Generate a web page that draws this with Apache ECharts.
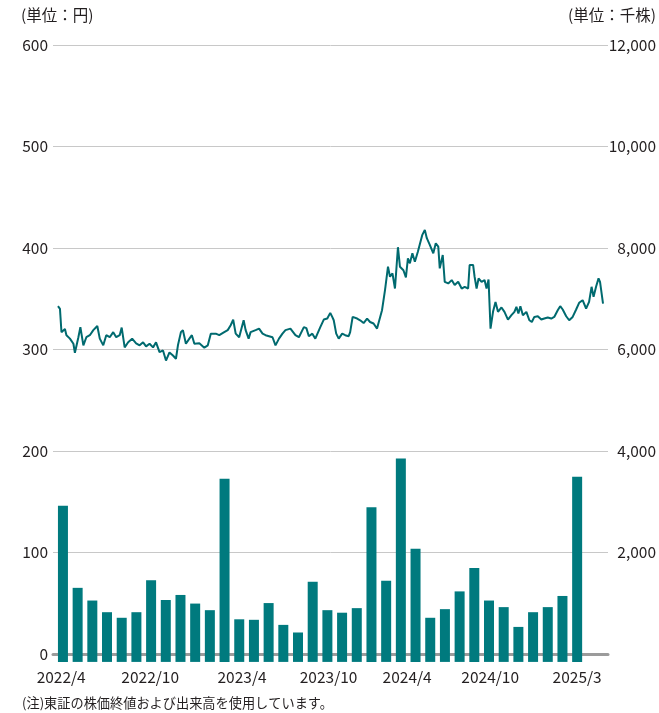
<!DOCTYPE html>
<html>
<head>
<meta charset="utf-8">
<script src="https://cdn.jsdelivr.net/npm/echarts@6/dist/echarts.min.js"></script>
<style>
  html, body { margin: 0; padding: 0; background: #fff; }
  #chart { width: 659px; height: 713px; }
</style>
</head>
<body>
<div id="chart"></div>
<script>
// 月次出来高(千株)
const months = ['2022/4', '2022/5', '2022/6', '2022/7', '2022/8', '2022/9', '2022/10', '2022/11', '2022/12',
  '2023/1', '2023/2', '2023/3', '2023/4', '2023/5', '2023/6', '2023/7', '2023/8', '2023/9', '2023/10', '2023/11', '2023/12',
  '2024/1', '2024/2', '2024/3', '2024/4', '2024/5', '2024/6', '2024/7', '2024/8', '2024/9', '2024/10', '2024/11', '2024/12',
  '2025/1', '2025/2', '2025/3']
const volume = [2920, 1300, 1050, 820, 710, 820, 1450, 1060, 1160, 990, 860, 3450,
  680, 670, 1000, 570, 420, 1420, 860, 810, 900, 2890, 1440, 3850,
  2070, 710, 880, 1230, 1690, 1050, 920, 530, 820, 920, 1140, 3490]

// 株価終値(円)
const priceDates = ['2022-04-01', '2022-04-05', '2022-04-08', '2022-04-15', '2022-04-18', '2022-04-25', '2022-05-02', '2022-05-05',
  '2022-05-12', '2022-05-16', '2022-05-22', '2022-05-28', '2022-06-04', '2022-06-11', '2022-06-19', '2022-06-24',
  '2022-07-01', '2022-07-07', '2022-07-14', '2022-07-21', '2022-07-27', '2022-08-03', '2022-08-07', '2022-08-13',
  '2022-08-20', '2022-08-28', '2022-09-05', '2022-09-12', '2022-09-19', '2022-09-25', '2022-10-02', '2022-10-09',
  '2022-10-15', '2022-10-22', '2022-10-29', '2022-11-04', '2022-11-11', '2022-11-18', '2022-11-24', '2022-11-28',
  '2022-12-04', '2022-12-08', '2022-12-14', '2022-12-21', '2022-12-26', '2022-12-31', '2023-01-10', '2023-01-20',
  '2023-01-27', '2023-02-02', '2023-02-12', '2023-02-19', '2023-03-01', '2023-03-08', '2023-03-14', '2023-03-19',
  '2023-03-24', '2023-03-31', '2023-04-09', '2023-04-13', '2023-04-19', '2023-04-23', '2023-05-03', '2023-05-10',
  '2023-05-17', '2023-05-23', '2023-06-06', '2023-06-12', '2023-06-19', '2023-06-26', '2023-07-02', '2023-07-12',
  '2023-07-22', '2023-07-29', '2023-08-08', '2023-08-13', '2023-08-18', '2023-08-25', '2023-08-31', '2023-09-10',
  '2023-09-17', '2023-09-24', '2023-09-30', '2023-10-04', '2023-10-07', '2023-10-12', '2023-10-17', '2023-10-24',
  '2023-10-30', '2023-11-06', '2023-11-09', '2023-11-14', '2023-11-23', '2023-11-29', '2023-12-06', '2023-12-13',
  '2023-12-19', '2023-12-26', '2024-01-02', '2024-01-05', '2024-01-12', '2024-01-18', '2024-01-24', '2024-01-28',
  '2024-02-02', '2024-02-07', '2024-02-13', '2024-02-17', '2024-02-24', '2024-02-29', '2024-03-04', '2024-03-08',
  '2024-03-13', '2024-03-18', '2024-03-24', '2024-03-28', '2024-04-02', '2024-04-07', '2024-04-11', '2024-04-14',
  '2024-04-17', '2024-04-24', '2024-04-29', '2024-05-04', '2024-05-07', '2024-05-13', '2024-05-17', '2024-05-24',
  '2024-05-31', '2024-06-06', '2024-06-13', '2024-06-20', '2024-06-26', '2024-07-03', '2024-07-06', '2024-07-13',
  '2024-07-16', '2024-07-20', '2024-07-24', '2024-07-30', '2024-08-05', '2024-08-09', '2024-08-13', '2024-08-17',
  '2024-08-22', '2024-08-27', '2024-09-01', '2024-09-08', '2024-09-14', '2024-09-21', '2024-09-28', '2024-10-04',
  '2024-10-08', '2024-10-12', '2024-10-16', '2024-10-21', '2024-10-28', '2024-11-03', '2024-11-08', '2024-11-13',
  '2024-11-20', '2024-11-27', '2024-12-03', '2024-12-10', '2024-12-17', '2024-12-23', '2024-12-30', '2025-01-04',
  '2025-01-09', '2025-01-16', '2025-01-22', '2025-01-29', '2025-02-05', '2025-02-11', '2025-02-18', '2025-02-25',
  '2025-03-03', '2025-03-08', '2025-03-12', '2025-03-17', '2025-03-22', '2025-03-25', '2025-03-28', '2025-03-31']
const priceValues = [342.6, 340, 317, 320, 314, 310.6, 305.6, 296.7,
  312, 322, 304, 312, 314, 319, 323, 310.6,
  304, 314, 312, 317, 312, 314, 321.5, 302,
  307, 310.6, 306, 304, 307, 303, 305.6, 302,
  307, 297.3, 299, 289, 297, 294, 290.8, 304,
  317, 319, 305.6, 310.6, 314, 305.6, 306, 301.7,
  304, 315.5, 315.5, 314, 317, 319, 323.8, 329.4,
  315.5, 312, 328.7, 319, 310.6, 317, 319, 320.5,
  315.5, 314, 312, 304, 310.6, 315.5, 319, 320.5,
  314, 312, 322, 321, 313, 315.5, 310.6, 322,
  329.4, 330.4, 336, 332, 328.7, 315.5, 310.6, 315.5,
  314, 313, 317, 332, 330.4, 328.7, 326, 330.4,
  327, 325.5, 320.5, 322, 338.6, 358.4, 381.5, 371.6,
  375, 360, 400.7, 381.5, 378, 371, 389.8, 384.9,
  394.7, 386.4, 396.3, 398, 412.9, 417.8, 409.6, 411.2,
  403, 394.7, 404.6, 401.3, 379.9, 393, 366.6, 365,
  368.3, 363.4, 366.6, 360, 361.6, 360, 383.2, 383.2,
  371.6, 360, 369.9, 366.6, 368.3, 360, 368.9, 320.5,
  337, 346.8, 337, 341.3, 337, 329.4, 333.7, 337,
  341.9, 335.3, 342.6, 333.7, 337, 328.7, 327, 332,
  332.6, 329.4, 330.4, 331.4, 330.4, 332, 338.6, 342.6,
  339.3, 332.7, 328.7, 332, 339.3, 345.9, 348.5, 340.3,
  346.8, 361.7, 351.8, 361.7, 370, 366.6, 366.6, 345.2]

// 横軸ラベル(月インデックス上の表示位置)
const xTickLabels = ['2022/4', '2022/10', '2023/4', '2023/10', '2024/4', '2024/10', '2025/3']
const xTickPos = [-0.12, 5.94, 12.19, 18.08, 23.43, 29.08, 35]

const textColor = '#231f20'
const font = '"Noto Sans CJK JP", "Noto Sans", sans-serif'

const chart = echarts.init(document.getElementById('chart'))
chart.setOption({
  animation: false,
  textStyle: { fontFamily: font },
  grid: { left: 53, right: 48, top: 45, bottom: 59.2 },
  graphic: [
    { type: 'text', left: 21, top: 7, style: { text: '(単位：円)', font: '15.5px ' + font, fill: textColor } },
    { type: 'text', right: 3, top: 7, style: { text: '(単位：千株)', font: '15.5px ' + font, fill: textColor } },
    { type: 'text', left: 22, top: 696, style: { text: '(注)東証の株価終値および出来高を使用しています。', font: '13.2px ' + font, fill: textColor } }
  ],
  xAxis: [
    {
      type: 'time',
      min: '2022-03-22',
      max: '2025-04-10',
      show: false
    },
    {
      type: 'value',
      position: 'bottom',
      min: -0.677,
      max: 37.1,
      offset: 8,
      axisLine: { show: true, lineStyle: { color: '#9b9b9b', width: 3 } },
      axisTick: { show: false },
      splitLine: { show: false },
      axisLabel: {
        customValues: xTickPos,
        margin: 8,
        fontSize: 15.5,
        color: textColor,
        formatter: function(v) {
          const i = xTickPos.indexOf(v)
          return i >= 0 ? xTickLabels[i] : ''
        }
      }
    }
  ],
  yAxis: [
    {
      type: 'value',
      min: 0,
      max: 600,
      interval: 100,
      axisLine: { show: false },
      axisTick: { show: false },
      axisLabel: { margin: 5, fontSize: 15.5, color: textColor },
      splitLine: { show: true, lineStyle: { color: '#c8c8c8', width: 1 } }
    },
    {
      type: 'value',
      min: 0,
      max: 12000,
      interval: 2000,
      startValue: -160,
      axisLine: { show: false },
      axisTick: { show: false },
      splitLine: { show: false },
      axisLabel: {
        margin: 48,
        align: 'right',
        fontSize: 15.5,
        color: textColor,
        formatter: function(v) {
          return v === 0 ? '' : v.toLocaleString('en-US')
        }
      }
    }
  ],
  series: [
    {
      name: '出来高',
      type: 'bar',
      xAxisIndex: 1,
      yAxisIndex: 1,
      barWidth: 10,
      clip: false,
      itemStyle: { color: '#007a7e' },
      data: months.map((m, i) => [i, volume[i]])
    },
    {
      name: '株価',
      type: 'line',
      xAxisIndex: 0,
      yAxisIndex: 0,
      showSymbol: false,
      lineStyle: { color: '#006a6f', width: 2 },
      data: priceDates.map((d, i) => [d, priceValues[i]])
    }
  ]
})
</script>
</body>
</html>
